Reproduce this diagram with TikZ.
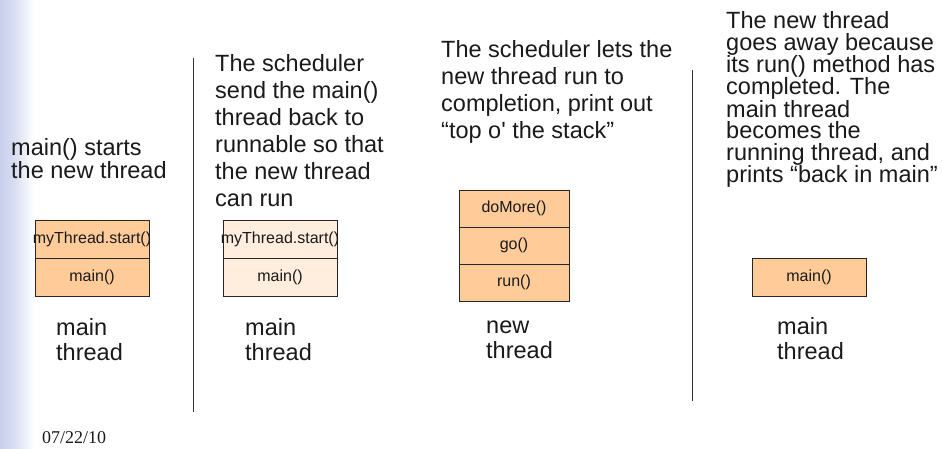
\documentclass[tikz,border=0pt]{standalone}
\usepackage{fontspec}
\setmainfont{Liberation Sans}
\newfontfamily\datefont{Liberation Serif}
\definecolor{stackfill}{HTML}{FFCC99}
\definecolor{stackpale}{HTML}{FFEEDD}
\definecolor{inkgray}{HTML}{1A1A1A}
\definecolor{railblue}{rgb}{0.78,0.81,0.92}
% zero-width box so a long frame label may spill past the frame edges
\newcommand{\spill}[1]{\makebox[0pt]{#1}}
\begin{document}
\begin{tikzpicture}[x=1pt,y=-1pt,
  caption/.style={anchor=base west, inner sep=0pt, align=left, text=inkgray},
  frame/.style={draw=black!85, line width=0.8pt, fill=stackfill, minimum height=38pt,
                inner sep=0pt, font=\fontsize{16}{18}\selectfont, text=inkgray},
  divider/.style={draw=black!80, line width=0.8pt}]

% canvas and left rail of the slide template
\fill[white] (0,0) rectangle (942,449);
\useasboundingbox (0,0) rectangle (942,449);
\shade[left color=railblue, right color=railblue!70] (0,0) rectangle (14,449);
\shade[left color=railblue!70, right color=white] (14,0) rectangle (34,449);

% column dividers
\coordinate (d1top) at (193,58);
\coordinate (d1bot) at (193,412);
\coordinate (d2top) at (692,70);
\coordinate (d2bot) at (692,401);
\draw[divider] (d1top) -- (d1bot);
\draw[divider] (d2top) -- (d2bot);

% multi-line captions are placed by the baseline of their last line

% column 1: main() starts the new thread
\node[caption, font=\fontsize{23.5}{24}\selectfont] (t1) at (11,179) {main() starts\\the new thread};
\node[frame, minimum width=114pt] (s1a) at (92,239) {\spill{myThread.start()}};
\node[frame, minimum width=114pt] (s1b) at (92,277) {\spill{main()}};
\node[caption, font=\fontsize{23.5}{25}\selectfont] (l1) at (56,360) {main\\thread};

% column 2: main thread sent back to runnable
\node[caption, font=\fontsize{23.5}{27}\selectfont] (t2) at (215,207)
  {The scheduler\\send the main()\\thread back to\\runnable so that\\the new thread\\can run};
\node[frame, fill=stackpale, minimum width=114pt] (s2a) at (280,239) {\spill{myThread.start()}};
\node[frame, fill=stackpale, minimum width=114pt] (s2b) at (280,277) {\spill{main()}};
\node[caption, font=\fontsize{23.5}{25}\selectfont] (l2) at (245,360) {main\\thread};

% column 3: new thread runs to completion
\node[caption, font=\fontsize{23.5}{27}\selectfont] (t3) at (441,139)
  {The scheduler lets the\\new thread run to\\completion, print out\\“top o\textquotesingle{} the stack”};
\node[frame, minimum width=110pt, minimum height=37pt] (s3a) at (514,208.5) {\spill{doMore()}};
\node[frame, minimum width=110pt, minimum height=37pt] (s3b) at (514,245.5) {\spill{go()}};
\node[frame, minimum width=110pt, minimum height=37pt] (s3c) at (514,282.5) {\spill{run()}};
\node[caption, font=\fontsize{23.5}{25}\selectfont] (l3) at (486,358) {new\\thread};

% column 4: main thread running again
\node[caption, font=\fontsize{23.5}{22}\selectfont] (t4) at (726,183)
  {The new thread\\goes away because\\its run() method has\\completed. The\\main thread\\becomes the\\running thread, and\\prints “back in main”};
\node[frame, minimum width=114pt] (s4a) at (809,277) {\spill{main()}};
\node[caption, font=\fontsize{23.5}{25}\selectfont] (l4) at (777,359) {main\\thread};

% footer date
\node[caption, font=\datefont\fontsize{18}{20}\selectfont] (date) at (42,443) {07/22/10};
\end{tikzpicture}
\end{document}
